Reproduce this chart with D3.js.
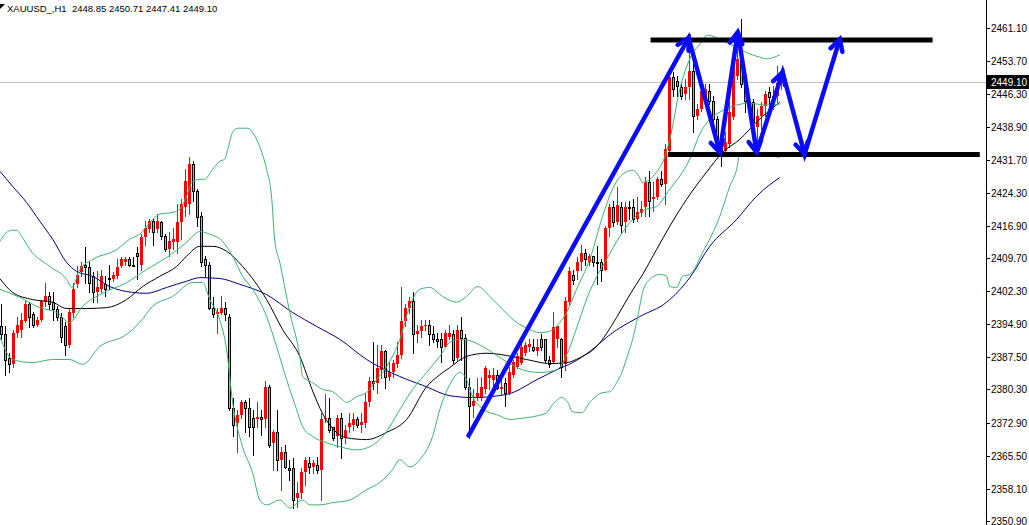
<!DOCTYPE html>
<html>
<head>
<meta charset="utf-8">
<script src="https://cdn.jsdelivr.net/npm/d3@7"></script>
<style>
  body { margin: 0; background: #fff; }
  svg { display: block; font-family: "Liberation Sans", Arial, sans-serif; }
</style>
</head>
<body>
<div id="chartDiv"></div>
<script>
;(function() {

	var width = 1029;
	var height = 525;
	var axisX = 986;

	var symbol = "XAUUSD_,H1";
	var bullColor = "#ff0000";
	var bearColor = "#40e0d0";

	// hourly candles, oldest first
	var opens = [
		2394.4, 2392.6, 2387.4, 2385.9, 2393.0, 2393.7, 2395.5, 2399.3, 2397.1, 2394.8,
		2395.9, 2399.8, 2401.1, 2399.8, 2398.2, 2396.6, 2394.4, 2390.3, 2397.5, 2403.8,
		2406.5, 2408.2, 2407.6, 2405.6, 2402.0, 2402.7, 2403.8, 2405.3, 2404.9, 2405.6,
		2407.8, 2408.7, 2409.4, 2408.2, 2410.9, 2408.2, 2414.3, 2416.1, 2417.9, 2416.1,
		2417.7, 2414.5, 2411.6, 2413.2, 2413.2, 2417.7, 2421.2, 2421.7, 2430.7, 2424.6,
		2419.0, 2409.4, 2408.2, 2398.6, 2397.1, 2397.5, 2398.6, 2396.6, 2376.2, 2372.9,
		2374.7, 2377.4, 2376.2, 2374.0, 2373.6, 2374.2, 2373.6, 2380.9, 2368.4, 2370.9,
		2364.6, 2366.4, 2362.8, 2362.8, 2356.1, 2357.2, 2361.9, 2363.9, 2363.0, 2363.5,
		2362.4, 2373.6, 2374.0, 2371.8, 2369.8, 2374.0, 2369.5, 2371.8, 2372.4, 2373.6,
		2372.4, 2372.9, 2377.4, 2382.1, 2381.8, 2384.7, 2388.8, 2383.2, 2384.1, 2385.9,
		2388.1, 2395.5, 2398.6, 2400.0, 2392.6, 2393.3, 2394.4, 2394.8, 2392.6, 2391.5,
		2391.5, 2389.9, 2392.1, 2392.6, 2387.4, 2393.7, 2391.9, 2380.9, 2376.5, 2378.7,
		2378.5, 2380.3, 2382.9, 2382.5, 2383.6, 2380.3, 2381.8, 2379.6, 2383.6, 2385.4,
		2386.3, 2388.5, 2389.9, 2389.9, 2388.8, 2391.5, 2391.5, 2387.0, 2386.5, 2391.5,
		2391.5, 2385.9, 2399.8, 2405.8, 2406.7, 2408.9, 2410.7, 2408.9, 2410.1, 2408.9,
		2408.9, 2407.1, 2416.5, 2421.2, 2417.7, 2421.2, 2417.7, 2421.2, 2421.0, 2418.3,
		2419.7, 2421.0, 2426.6, 2422.8, 2423.3, 2427.3, 2426.2, 2433.6, 2450.1, 2449.2,
		2447.9, 2446.3, 2447.9, 2451.5, 2441.4, 2443.0, 2444.8, 2447.0, 2444.8, 2440.7,
		2436.2, 2433.6, 2435.1, 2441.2, 2450.4, 2454.8, 2448.6, 2444.8, 2444.5, 2438.9,
		2441.4, 2443.6, 2446.8, 2444.8, 2445.9, 2448.85
	];
	var highs = [
		2399.3, 2394.4, 2388.5, 2393.7, 2396.6, 2397.5, 2400.0, 2399.8, 2397.7, 2396.6,
		2400.4, 2404.2, 2402.0, 2402.0, 2398.9, 2397.5, 2395.3, 2398.2, 2404.2, 2407.8,
		2408.7, 2412.1, 2408.7, 2406.5, 2406.7, 2407.1, 2405.6, 2408.2, 2406.5, 2409.4,
		2409.8, 2409.8, 2409.8, 2409.8, 2412.1, 2415.0, 2417.9, 2418.3, 2418.3, 2419.5,
		2417.9, 2415.0, 2415.4, 2416.5, 2421.7, 2422.8, 2429.5, 2432.2, 2431.3, 2425.1,
		2419.9, 2410.1, 2408.7, 2400.9, 2398.6, 2401.1, 2399.8, 2397.1, 2378.5, 2375.8,
		2378.0, 2378.0, 2378.5, 2375.8, 2377.4, 2375.8, 2382.1, 2381.4, 2371.3, 2375.8,
		2367.5, 2368.0, 2364.6, 2365.0, 2359.7, 2362.8, 2365.3, 2365.3, 2364.6, 2365.3,
		2375.1, 2379.2, 2378.5, 2372.0, 2374.7, 2375.1, 2372.4, 2375.1, 2375.1, 2374.2,
		2375.1, 2379.6, 2383.2, 2390.8, 2390.3, 2390.3, 2389.2, 2386.5, 2387.0, 2390.8,
		2403.1, 2399.3, 2400.9, 2402.2, 2394.8, 2395.9, 2395.9, 2395.9, 2394.4, 2393.0,
		2393.0, 2393.7, 2394.8, 2393.7, 2394.8, 2396.6, 2392.6, 2382.9, 2380.3, 2382.9,
		2383.2, 2385.6, 2384.7, 2385.2, 2384.7, 2382.5, 2382.9, 2385.4, 2387.0, 2388.5,
		2391.0, 2391.0, 2391.5, 2391.5, 2391.5, 2392.6, 2391.6, 2387.7, 2397.7, 2394.6,
		2391.9, 2400.9, 2407.6, 2407.1, 2409.8, 2412.7, 2411.6, 2410.5, 2410.2, 2412.3,
		2409.4, 2416.8, 2421.7, 2422.4, 2425.5, 2422.1, 2422.1, 2422.4, 2422.8, 2423.3,
		2422.4, 2427.7, 2429.1, 2426.6, 2427.7, 2429.1, 2435.1, 2451.2, 2451.2, 2450.4,
		2448.6, 2449.7, 2456.4, 2455.7, 2444.1, 2448.6, 2448.6, 2448.6, 2445.9, 2441.4,
		2436.9, 2437.8, 2444.5, 2456.4, 2456.4, 2463.1, 2449.2, 2445.9, 2445.2, 2443.0,
		2444.5, 2447.0, 2447.9, 2448.1, 2452.6, 2450.71
	];
	var lows = [
		2391.5, 2383.6, 2384.1, 2385.4, 2392.1, 2392.1, 2395.3, 2394.2, 2394.2, 2394.4,
		2395.5, 2398.9, 2398.2, 2395.9, 2395.9, 2390.8, 2388.1, 2389.7, 2396.6, 2403.3,
		2405.6, 2404.2, 2402.0, 2399.8, 2399.8, 2402.0, 2401.1, 2402.7, 2404.5, 2405.3,
		2407.6, 2408.2, 2407.8, 2407.9, 2404.9, 2407.1, 2412.7, 2415.4, 2412.7, 2415.4,
		2413.9, 2411.2, 2410.1, 2411.6, 2410.9, 2413.9, 2419.0, 2419.5, 2422.4, 2416.8,
		2407.8, 2405.6, 2398.2, 2396.4, 2393.0, 2397.1, 2395.9, 2375.8, 2369.8, 2366.4,
		2374.0, 2370.7, 2369.8, 2365.7, 2371.8, 2370.2, 2371.8, 2367.5, 2362.4, 2362.4,
		2357.9, 2362.8, 2360.1, 2353.8, 2354.1, 2356.1, 2359.0, 2361.7, 2361.7, 2361.7,
		2355.6, 2373.1, 2370.7, 2369.1, 2367.5, 2365.0, 2368.4, 2370.7, 2371.3, 2372.0,
		2370.7, 2371.8, 2376.5, 2380.3, 2379.6, 2382.9, 2380.7, 2382.5, 2383.2, 2385.4,
		2387.4, 2394.4, 2397.5, 2388.5, 2390.8, 2392.1, 2393.7, 2390.3, 2390.8, 2389.9,
		2386.5, 2389.7, 2391.5, 2386.3, 2387.0, 2387.0, 2380.3, 2369.5, 2374.2, 2378.0,
		2378.0, 2379.6, 2380.3, 2380.9, 2380.3, 2379.2, 2376.5, 2379.2, 2383.2, 2385.2,
		2385.9, 2388.1, 2388.8, 2388.8, 2388.1, 2389.2, 2386.5, 2385.4, 2386.3, 2389.7,
		2383.2, 2384.7, 2399.3, 2403.8, 2404.9, 2407.1, 2408.2, 2408.2, 2407.8, 2403.8,
		2404.5, 2407.0, 2414.5, 2416.8, 2417.2, 2415.4, 2415.4, 2418.3, 2417.7, 2417.9,
		2419.0, 2419.0, 2419.0, 2420.1, 2422.8, 2425.7, 2421.7, 2432.9, 2445.9, 2445.9,
		2445.2, 2445.2, 2445.2, 2437.8, 2440.7, 2442.5, 2443.6, 2444.1, 2437.8, 2435.6,
		2430.2, 2432.9, 2434.5, 2440.7, 2449.7, 2447.9, 2442.3, 2441.4, 2436.2, 2433.3,
		2438.5, 2441.4, 2443.6, 2443.0, 2444.5, 2447.41
	];
	var closes = [
		2392.6, 2387.0, 2385.9, 2393.0, 2394.8, 2395.9, 2399.3, 2396.4, 2394.8, 2395.9,
		2400.0, 2401.1, 2399.3, 2398.2, 2396.4, 2392.1, 2390.3, 2397.7, 2402.7, 2406.0,
		2407.8, 2407.6, 2404.2, 2402.0, 2403.1, 2405.6, 2402.7, 2405.1, 2406.0, 2407.6,
		2409.4, 2409.4, 2408.2, 2408.1, 2410.1, 2414.3, 2416.5, 2417.9, 2415.6, 2417.9,
		2414.5, 2411.6, 2413.4, 2413.9, 2417.7, 2421.7, 2426.8, 2430.7, 2424.6, 2418.8,
		2408.9, 2408.2, 2398.6, 2397.1, 2397.7, 2398.6, 2397.1, 2376.2, 2372.4, 2374.7,
		2377.4, 2376.2, 2371.8, 2371.8, 2374.2, 2373.6, 2380.9, 2368.0, 2370.9, 2364.6,
		2366.4, 2363.0, 2362.4, 2355.6, 2357.2, 2361.9, 2364.6, 2363.0, 2363.9, 2362.4,
		2373.6, 2374.0, 2371.3, 2369.5, 2374.0, 2369.5, 2371.3, 2372.9, 2373.6, 2372.4,
		2373.1, 2377.4, 2382.1, 2381.8, 2385.2, 2388.8, 2383.2, 2384.3, 2386.3, 2388.1,
		2395.5, 2398.6, 2400.0, 2392.6, 2393.3, 2394.4, 2394.8, 2392.6, 2391.5, 2391.2,
		2389.9, 2393.0, 2393.0, 2387.0, 2393.7, 2391.9, 2380.9, 2376.5, 2377.8, 2379.6,
		2380.9, 2385.2, 2383.6, 2383.6, 2380.7, 2380.9, 2379.6, 2384.1, 2386.5, 2387.7,
		2389.7, 2390.3, 2390.5, 2389.2, 2389.7, 2389.9, 2387.0, 2385.9, 2394.2, 2394.4,
		2385.4, 2400.0, 2406.7, 2404.7, 2408.7, 2410.9, 2409.4, 2410.1, 2408.7, 2408.7,
		2407.1, 2416.5, 2421.2, 2417.7, 2421.5, 2417.0, 2421.2, 2421.0, 2418.3, 2419.9,
		2420.6, 2426.6, 2422.4, 2423.3, 2427.3, 2426.2, 2434.0, 2450.1, 2447.4, 2448.1,
		2445.9, 2447.9, 2451.5, 2441.4, 2443.0, 2447.0, 2447.4, 2444.8, 2440.7, 2436.2,
		2433.3, 2435.6, 2442.3, 2454.8, 2454.2, 2448.6, 2444.8, 2443.4, 2440.1, 2441.4,
		2443.6, 2446.3, 2445.7, 2445.9, 2448.8, 2449.10
	];

	var priceTicks = ["2461.10", "2453.70", "2446.30", "2438.90", "2431.70", "2424.30", "2416.90", "2409.70",
		"2402.30", "2394.90", "2387.50", "2380.30", "2372.90", "2365.50", "2358.10", "2350.90"];

	// indicator lines: [bar index, price]
	var bandUpper = [[-0.3,2413.4],[1.4,2415.4],[2.7,2415.9],[3.9,2415.9],[5.2,2414.5],[7.2,2411.6],[12.2,2407.8],[16.4,2404.9],[17.7,2403.1],[19.7,2407.1],[23,2409.4],[29,2411.6],[32.2,2413.9],[34.7,2415.0],[37.9,2418.3],[39.7,2419.5],[43,2419.9],[44.7,2420.6],[46.4,2423.5],[47.7,2426.6],[49.7,2427.3],[50.9,2427.3],[52.9,2429.5],[54.7,2431.3],[55.9,2431.8],[56.7,2434.0],[57.9,2437.8],[59.2,2438.7],[61.7,2438.7],[63.9,2436.2],[65.2,2433.3],[66.4,2429.5],[67.7,2422.8],[68.4,2413.9],[69.7,2408.7],[72.2,2397.5],[74.7,2387.7],[75.4,2383.2],[77.9,2381.8],[80.4,2380.3],[82.9,2379.8],[85.4,2378.0],[86.4,2377.4],[88.9,2378.7],[91.4,2379.6],[93.9,2382.5],[96.4,2385.4],[99.7,2391.5],[102.2,2398.9],[104.7,2402.7],[107.2,2403.1],[110.4,2401.1],[113.9,2399.8],[116.4,2401.1],[119.2,2403.3],[122.2,2401.1],[125.4,2398.2],[128.9,2395.3],[132.2,2393.7],[134.7,2393.0],[137.2,2393.3],[139.7,2395.3],[141.4,2397.5],[143.9,2402.7],[147.2,2409.4],[150.4,2419.0],[152.9,2425.1],[155.4,2428.4],[157.9,2429.3],[159.2,2428.4],[160.4,2426.6],[163.9,2428.9],[165.4,2431.1],[167.2,2436.2],[169.7,2447.4],[172.2,2454.2],[174.7,2457.5],[176.7,2459.5],[179.7,2458.6],[182.2,2457.5],[184.7,2456.4],[187.2,2455.3],[189.7,2454.6],[191.4,2454.2],[193.4,2454.6],[194.7,2455.1]];
	var bandMiddle = [[-0.3,2402.7],[4.7,2400.9],[9.7,2398.6],[13.9,2397.5],[17.2,2395.3],[20.4,2398.9],[24.7,2401.5],[31.4,2404.2],[36.4,2407.1],[41.4,2409.8],[46.4,2413.2],[49.7,2415.6],[52.2,2415.0],[55.4,2413.4],[57.9,2410.1],[60.4,2405.6],[62.9,2402.7],[66.4,2396.6],[68.9,2389.9],[71.4,2382.5],[73.9,2375.8],[75.4,2372.0],[77.9,2369.8],[81.4,2368.4],[84.7,2367.5],[88.9,2366.8],[92.2,2367.5],[94.7,2369.1],[97.2,2372.0],[99.7,2375.8],[102.9,2380.3],[106.4,2384.1],[109.7,2387.7],[112.2,2390.8],[114.7,2391.5],[117.2,2391.2],[120.4,2389.9],[126.4,2386.5],[130.4,2384.7],[134.7,2384.1],[138.9,2384.7],[141.4,2388.0],[143.9,2394.0],[146.4,2400.5],[149.2,2406.0],[151.4,2409.4],[154.7,2414.5],[157.9,2418.3],[161.4,2420.6],[163.9,2421.2],[167.2,2425.1],[169.7,2428.0],[172.2,2431.8],[174.7,2437.4],[177.2,2440.7],[179.7,2442.3],[182.9,2443.6],[187.2,2444.3],[190.9,2443.9],[194.7,2444.1]];
	var bandLower = [[-0.3,2392.1],[2.9,2387.0],[7.9,2386.3],[12.9,2387.0],[17.2,2387.0],[20.4,2385.9],[24.7,2389.9],[31.4,2392.6],[34.7,2395.3],[37.9,2398.9],[42.9,2401.1],[47.9,2404.2],[50.4,2404.2],[52.2,2400.4],[54.7,2395.9],[56.4,2389.2],[57.9,2377.5],[60.4,2367.5],[62.9,2361.7],[64.7,2355.6],[66.4,2354.5],[69.7,2355.6],[72.2,2353.8],[75.4,2355.6],[77.2,2354.5],[79.7,2354.5],[82.9,2355.0],[87.2,2355.6],[91.4,2357.9],[94.7,2359.5],[97.9,2362.4],[99.7,2364.6],[102.2,2363.0],[104.7,2364.6],[107.9,2369.8],[109.7,2375.8],[112.2,2381.4],[114.7,2384.1],[116.4,2382.5],[117.9,2378.7],[119.7,2376.5],[121.4,2375.4],[123.9,2374.7],[127.2,2373.6],[129.7,2373.8],[132.9,2374.2],[136.4,2375.1],[137.9,2376.9],[140.2,2378.5],[141.7,2377.4],[142.9,2375.3],[145.2,2375.1],[147.2,2377.4],[150.4,2379.6],[152.2,2379.8],[153.9,2381.8],[155.2,2384.1],[156.7,2388.1],[157.9,2391.5],[159.2,2396.6],[160.4,2402.0],[162.2,2404.9],[164.7,2406.0],[166.4,2405.6],[167.2,2403.3],[168.9,2403.1],[170.4,2405.6],[172.2,2406.0],[175.4,2410.9],[179.7,2419.0],[182.2,2425.7],[183.9,2429.5],[184.7,2432.9],[186.4,2433.3],[187.9,2432.9],[190.9,2432.7],[194.7,2432.2]];
	var maFast = [[-0.3,2405.1],[2.9,2402.0],[7.9,2400.4],[12.9,2399.8],[16.4,2398.4],[21.4,2398.4],[26.4,2398.6],[31.4,2400.4],[35.4,2403.3],[39.7,2405.6],[43.9,2407.8],[46.4,2410.1],[49.7,2412.3],[52.9,2412.3],[56.4,2411.2],[60.4,2407.8],[66.4,2400.4],[70.4,2393.7],[74.7,2387.7],[77.9,2380.0],[80.4,2374.9],[82.9,2371.6],[86.4,2369.5],[91.4,2369.1],[96.4,2370.7],[101.4,2373.6],[106.4,2380.9],[109.7,2383.6],[112.2,2385.2],[116.4,2387.7],[121.4,2388.4],[126.4,2387.9],[131.4,2387.0],[137.2,2386.1],[141.4,2386.3],[144.7,2387.4],[148.9,2389.9],[153.9,2396.4],[157.2,2401.5],[160.4,2406.0],[163.9,2411.6],[167.2,2416.8],[171.4,2422.8],[176.4,2428.9],[180.4,2433.3],[184.7,2436.2],[188.9,2440.1],[194.7,2444.5]];
	var maSlow = [[-0.3,2429.1],[2.9,2425.7],[6.4,2422.1],[9.7,2417.9],[12.9,2413.9],[16.4,2408.7],[18.9,2406.7],[22.9,2405.6],[27.2,2403.3],[32.9,2402.0],[36.4,2401.8],[41.4,2403.1],[46.4,2404.5],[49.7,2405.3],[54.7,2405.1],[59.7,2403.8],[66.4,2401.5],[72.9,2397.5],[78.9,2394.4],[84.7,2391.5],[91.4,2387.0],[99.7,2383.2],[106.4,2380.9],[112.2,2378.9],[117.9,2378.5],[126.4,2379.2],[134.0,2382.5],[138.9,2384.7],[142.9,2386.3],[147.2,2388.8],[152.9,2393.0],[159.7,2396.6],[166.4,2399.8],[172.2,2405.3],[177.2,2412.3],[183.9,2418.3],[188.9,2423.5],[194.7,2427.7]];

	// hand drawn levels and projection arrows
	var levelPrices = [2458.4, 2432.8];
	var levelFrom = [162.4, 166.7];
	var levelTo = [232.9, 244.7];
	var arrowIdx = [116.9, 171.9, 179.7, 184.2, 188.9, 195.4, 200.9, 209.7];
	var arrowPrice = [2370.0, 2458.9, 2433.3, 2460.2, 2433.3, 2451.2, 2432.9, 2458.6];

	var chart;
	var xScale;
	var yScale;

	init();

	function init() {
		chart = d3.select("#chartDiv").append("svg")
			.attr("width", width)
			.attr("height", height);

		xScale = d3.scaleLinear().domain([0, 195]).range([1, 781]);
		yScale = d3.scaleLinear().domain([2350.9, 2461.1]).range([521, 28]);

		chart.append("clipPath").attr("id", "plotClip")
			.append("rect").attr("x", 0).attr("y", 0).attr("width", axisX).attr("height", height);

		chart.plotArea = chart.append("g").attr("clip-path", "url(#plotClip)");

		drawPriceLine();
		drawCandles();
		drawIndicators();
		drawLevels();
		drawArrows();
		drawAxis();
		drawHeader();
	}

	function drawPriceLine() {
		var last = closes[closes.length - 1];
		chart.plotArea.append("line")
			.attr("x1", 0).attr("x2", axisX)
			.attr("y1", Math.round(yScale(last)) + 0.5)
			.attr("y2", Math.round(yScale(last)) + 0.5)
			.attr("stroke", "#c0c0c0");
	}

	function drawCandles() {
		var g = chart.plotArea.append("g").attr("shape-rendering", "crispEdges");
		closes.forEach(function(c, i) {
			var o = opens[i];
			var up = c >= o;
			var cx = Math.round(xScale(i));
			var top = Math.round(yScale(Math.max(o, c)));
			var bot = Math.round(yScale(Math.min(o, c)));
			g.append("line")
				.attr("x1", cx + 0.5).attr("x2", cx + 0.5)
				.attr("y1", Math.round(yScale(highs[i])))
				.attr("y2", Math.round(yScale(lows[i])) + 1)
				.attr("stroke", up ? bullColor : "#000");
			if (up) {
				g.append("rect")
					.attr("x", cx - 1).attr("y", top)
					.attr("width", 3).attr("height", Math.max(1, bot - top))
					.attr("fill", bullColor);
			} else {
				g.append("rect")
					.attr("x", cx - 0.5).attr("y", top + 0.5)
					.attr("width", 2).attr("height", Math.max(1, bot - top))
					.attr("fill", bearColor)
					.attr("stroke", "#000");
			}
		});
	}

	function drawIndicators() {
		var line = d3.line()
			.x(function(d) { return xScale(d[0]); })
			.y(function(d) { return yScale(d[1]); })
			.curve(d3.curveMonotoneX);

		var series = [
			{ data: maSlow, color: "#000080" },
			{ data: maFast, color: "#000000" },
			{ data: bandLower, color: "#3cb371" },
			{ data: bandMiddle, color: "#3cb371" },
			{ data: bandUpper, color: "#3cb371" }
		];
		series.forEach(function(s) {
			chart.plotArea.append("path")
				.attr("d", line(s.data))
				.attr("fill", "none")
				.attr("stroke", s.color)
				.attr("stroke-width", 1);
		});
	}

	function drawLevels() {
		levelPrices.forEach(function(p, k) {
			chart.plotArea.append("line")
				.attr("x1", xScale(levelFrom[k])).attr("x2", xScale(levelTo[k]))
				.attr("y1", yScale(p)).attr("y2", yScale(p))
				.attr("stroke", "#000")
				.attr("stroke-width", 5);
		});
	}

	function drawArrows() {
		var g = chart.plotArea.append("g")
			.attr("stroke", "#0a0aff")
			.attr("stroke-width", 4.5)
			.attr("fill", "none")
			.attr("stroke-linecap", "round");
		var pts = arrowIdx.map(function(v, k) { return [xScale(v), yScale(arrowPrice[k])]; });

		g.append("path").attr("d", d3.line()(pts)).attr("stroke-linejoin", "miter");

		for (var k = 1; k < pts.length; k++) {
			var a = Math.atan2(pts[k][1] - pts[k - 1][1], pts[k][0] - pts[k - 1][0]);
			var len = 13, spread = 0.5;
			var tip = pts[k];
			var w1 = [tip[0] + len * Math.cos(a + Math.PI - spread), tip[1] + len * Math.sin(a + Math.PI - spread)];
			var w2 = [tip[0] + len * Math.cos(a + Math.PI + spread), tip[1] + len * Math.sin(a + Math.PI + spread)];
			g.append("path").attr("d", d3.line()([w1, tip, w2]));
		}
	}

	function drawAxis() {
		var g = chart.append("g");
		g.append("line")
			.attr("x1", axisX + 0.5).attr("x2", axisX + 0.5)
			.attr("y1", 0).attr("y2", height)
			.attr("stroke", "#000");

		priceTicks.forEach(function(t) {
			var yy = Math.round(yScale(+t)) + 0.5;
			g.append("line")
				.attr("x1", axisX).attr("x2", axisX + 4)
				.attr("y1", yy).attr("y2", yy)
				.attr("stroke", "#000");
			g.append("text")
				.attr("x", axisX + 5).attr("y", yy + 3.5)
				.style("font-size", "10px")
				.attr("fill", "#000")
				.text(t);
		});

		// current price marker
		var last = closes[closes.length - 1];
		var yc = Math.round(yScale(last));
		g.append("rect")
			.attr("x", axisX + 1).attr("y", yc - 7)
			.attr("width", width - axisX - 1).attr("height", 14)
			.attr("fill", "#000");
		g.append("text")
			.attr("x", axisX + 5).attr("y", yc + 4)
			.style("font-size", "10px")
			.attr("fill", "#fff")
			.text(last.toFixed(2));
	}

	function drawHeader() {
		var n = closes.length - 1;
		var vals = [opens[n], highs[n], lows[n], closes[n]].map(function(v) { return v.toFixed(2); });
		chart.append("path")
			.attr("d", "M0,4 L5,4 L0,9 Z")
			.attr("fill", "#000");
		chart.append("text")
			.attr("x", 7).attr("y", 12)
			.style("font-size", "9.5px")
			.style("white-space", "pre")
			.attr("fill", "#000")
			.text(symbol + "  " + vals.join(" "));
	}

})();
</script>
</body>
</html>
